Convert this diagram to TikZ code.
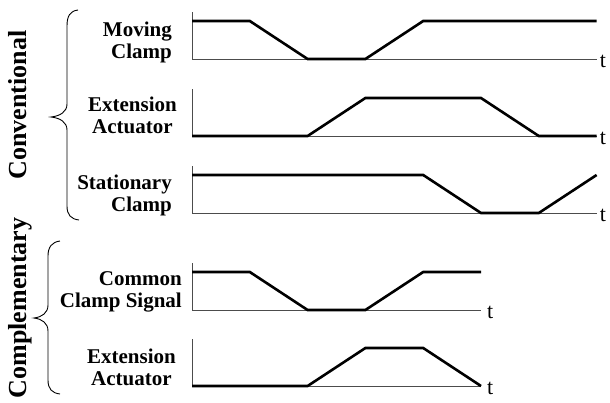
\documentclass[tikz,border=0pt]{standalone}
\usepackage{fontspec}
\setmainfont{Liberation Serif}
\begin{document}
\begin{tikzpicture}[x=1pt,y=-1pt,
  axis/.style={draw=black!70, line width=0.8pt},
  sig/.style={draw=black, line width=2.6pt, line join=miter},
  lab/.style={font=\fontsize{21}{21.5}\selectfont\bfseries, anchor=base east, inner sep=0pt},
  tlab/.style={font=\fontsize{22}{24}\selectfont, anchor=base west, inner sep=0pt},
  grp/.style={font=\fontsize{26}{28}\selectfont\bfseries, rotate=90, anchor=base, inner sep=0pt},
  brace/.style={draw=black, line width=0.9pt}]
\useasboundingbox (0,0) rectangle (610,402);

% ---------- group labels ----------
\node[grp] (conv) at (27,105) {Conventional};
\node[grp] (comp) at (27,308) {Complementary};

% ---------- braces ----------
\draw[brace] (78,10) .. controls (70,11) and (67,16) .. (67,26) -- (67,104)
  .. controls (67,112) and (60,116) .. (51,117)
  .. controls (60,118) and (67,122) .. (67,130) -- (67,206)
  .. controls (67,215) and (71,219) .. (79,220);
\draw[brace] (60,241) .. controls (52,242) and (48,247) .. (48,256) -- (48,305)
  .. controls (48,313) and (42,317) .. (34,318)
  .. controls (42,319) and (48,323) .. (48,331) -- (48,380)
  .. controls (48,389) and (52,393) .. (60,394);

% ---------- signal labels ----------
\node[lab] (l1) at (172,58) {\begin{tabular}[b]{@{}r@{}}Moving\\Clamp\end{tabular}};
\node[lab] (l2) at (177,133) {\begin{tabular}[b]{@{}c@{}}Extension\\Actuator\end{tabular}};
\node[lab] (l3) at (172,211) {\begin{tabular}[b]{@{}r@{}}Stationary\\Clamp\end{tabular}};
\node[lab] (l4) at (182,307) {\begin{tabular}[b]{@{}r@{}}Common\\Clamp Signal\end{tabular}};
\node[lab] (l5) at (176,385) {\begin{tabular}[b]{@{}c@{}}Extension\\Actuator\end{tabular}};

% ---------- plot 1: Moving Clamp ----------
\begin{scope}[shift={(192,59)}, x=57.8pt]
  \draw[axis] (0,-47) -- (0,0) -- (7,0);
  \draw[sig] (0,-38) -- (1,-38) -- (2,0) -- (3,0) -- (4,-38) -- (7,-38);
  \node[tlab] (t1) at ([xshift=3pt,yshift=-8pt]7,0) {t};
\end{scope}

% ---------- plot 2: Extension Actuator ----------
\begin{scope}[shift={(192,136)}, x=57.8pt]
  \draw[axis] (0,-47) -- (0,0) -- (7,0);
  \draw[sig] (0,0) -- (2,0) -- (3,-38) -- (5,-38) -- (6,0) -- (7,0);
  \node[tlab] (t2) at ([xshift=3pt,yshift=-8pt]7,0) {t};
\end{scope}

% ---------- plot 3: Stationary Clamp ----------
\begin{scope}[shift={(192,213)}, x=57.8pt]
  \draw[axis] (0,-47) -- (0,0) -- (7,0);
  \draw[sig] (0,-38) -- (4,-38) -- (5,0) -- (6,0) -- (7,-38);
  \node[tlab] (t3) at ([xshift=3pt,yshift=-8pt]7,0) {t};
\end{scope}

% ---------- plot 4: Common Clamp Signal ----------
\begin{scope}[shift={(192,310)}, x=57.8pt]
  \draw[axis] (0,-47) -- (0,0) -- (5,0);
  \draw[sig] (0,-38) -- (1,-38) -- (2,0) -- (3,0) -- (4,-38) -- (5,-38);
  \node[tlab] (t4) at ([xshift=6pt,yshift=-8pt]5,0) {t};
\end{scope}

% ---------- plot 5: Extension Actuator ----------
\begin{scope}[shift={(192,386)}, x=57.8pt]
  \draw[axis] (0,-47) -- (0,0) -- (5,0);
  \draw[sig] (0,0) -- (2,0) -- (3,-38) -- (4,-38) -- (5,0);
  \node[tlab] (t5) at ([xshift=6pt,yshift=-8pt]5,0) {t};
\end{scope}
\end{tikzpicture}
\end{document}
